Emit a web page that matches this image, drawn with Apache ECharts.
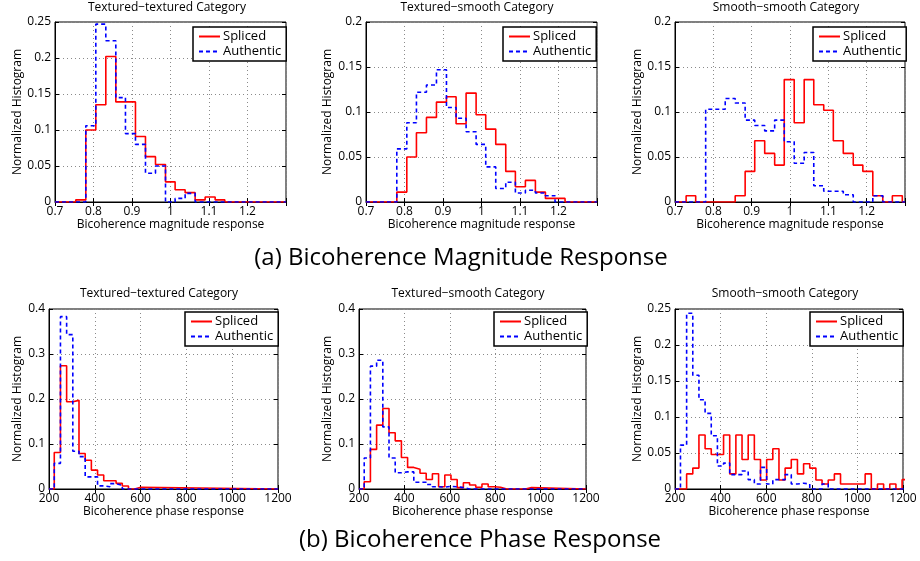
<!DOCTYPE html>
<html><head><meta charset="utf-8">
<script src="https://cdn.jsdelivr.net/npm/echarts@6/dist/echarts.min.js"></script>
<style>html,body{margin:0;padding:0;background:#fff}#c{width:920px;height:561px}</style>
</head><body><div id="c"></div>
<script>
// ---------- Data (bin edges + normalized histogram values) ----------
// (a) Bicoherence magnitude response
const magTTEdges = [0.754, 0.780, 0.806, 0.832, 0.858, 0.883, 0.909, 0.935, 0.961, 0.987, 1.012, 1.038, 1.064, 1.090, 1.116, 1.141];
const magTTSpliced   = [0.003, 0.100, 0.135, 0.202, 0.139, 0.139, 0.091, 0.063, 0.052, 0.028, 0.017, 0.013, 0.003, 0.007, 0.003];
const magTTAuthentic = [0, 0.106, 0.247, 0.224, 0.145, 0.095, 0.080, 0.040, 0.050, 0, 0.005, 0.012, 0, 0, 0];

const magTSEdges = [0.780, 0.806, 0.831, 0.857, 0.883, 0.909, 0.934, 0.960, 0.986, 1.011, 1.037, 1.063, 1.088, 1.114, 1.140, 1.166, 1.191, 1.217];
const magTSSpliced   = [0.011, 0.050, 0.077, 0.094, 0.111, 0.117, 0.087, 0.121, 0.097, 0.081, 0.064, 0.034, 0.017, 0.024, 0.011, 0.004, 0.004];
const magTSAuthentic = [0.059, 0.088, 0.122, 0.130, 0.147, 0.105, 0.093, 0.078, 0.064, 0.039, 0.015, 0.022, 0.010, 0.013, 0.010, 0.007, 0];

const magSSEdges = [0.729, 0.754, 0.780, 0.806, 0.831, 0.857, 0.883, 0.908, 0.934, 0.960, 0.985, 1.011, 1.037, 1.062, 1.088, 1.113, 1.139, 1.165, 1.190, 1.216, 1.242, 1.267, 1.293];
const magSSSpliced   = [0.007, 0, 0, 0, 0, 0.007, 0.034, 0.068, 0.054, 0.041, 0.136, 0.088, 0.136, 0.108, 0.102, 0.068, 0.054, 0.041, 0.034, 0.007, 0, 0.007];
const magSSAuthentic = [0, 0, 0.103, 0.103, 0.115, 0.110, 0.091, 0.085, 0.079, 0.091, 0.067, 0.043, 0.055, 0.018, 0.012, 0.012, 0.008, 0, 0, 0.007, 0, 0];

// (b) Bicoherence phase response
const phTTEdges = [223, 250, 277, 304, 331, 358, 385, 412, 439, 466, 493, 520, 547, 574, 601];
const phTTSpliced   = [0.081, 0.274, 0.194, 0.197, 0.079, 0.064, 0.042, 0.031, 0.0185, 0.0185, 0.0126, 0.0067, 0, 0.004];
const phTTAuthentic = [0.057, 0.383, 0.343, 0.084, 0.072, 0.027, 0.027, 0.007, 0.005, 0.012, 0.008, 0, 0, 0];

const phTSEdges = [223, 250.3, 277.6, 304.9, 332.2, 359.5, 386.8, 414.1, 441.4, 468.7, 496, 523.3, 550.6, 577.9, 605.2, 632.5, 659.8, 687.1, 714.4, 741.7, 769, 796.3, 823.6, 850.9, 878.2, 905.5, 932.8, 960.1];
const phTSSpliced   = [0.016, 0.088, 0.142, 0.179, 0.125, 0.107, 0.070, 0.048, 0.044, 0.035, 0.021, 0.034, 0.005, 0.031, 0.021, 0.003, 0.014, 0.009, 0.004, 0.011, 0.005, 0.004, 0, 0, 0, 0, 0.003];
const phTSAuthentic = [0.069, 0.273, 0.286, 0.138, 0.069, 0.036, 0.038, 0.038, 0.015, 0.015, 0.010, 0.005, 0.004, 0.006, 0.005, 0.003, 0, 0, 0, 0, 0, 0, 0, 0, 0, 0, 0];

const phSSEdges = [224, 251, 278, 305, 332, 359, 386, 413, 440, 467, 494, 521, 548, 575, 602, 629, 656, 683, 710, 737, 764, 791, 818, 845, 872, 899, 926, 953, 980, 1007, 1034, 1061, 1088, 1115, 1142, 1169, 1196, 1223];
const phSSSpliced   = [0, 0.021, 0.029, 0.075, 0.056, 0.048, 0.048, 0.075, 0.021, 0.075, 0.041, 0.075, 0.041, 0.0125, 0.041, 0.056, 0.0125, 0.029, 0.041, 0.021, 0.035, 0.029, 0.0125, 0.007, 0.0125, 0.021, 0.007, 0.007, 0.007, 0.007, 0.021, 0, 0.007, 0, 0.007, 0, 0.013];
const phSSAuthentic = [0.061, 0.244, 0.158, 0.124, 0.105, 0.074, 0.032, 0.036, 0.020, 0.020, 0.025, 0.013, 0.007, 0.030, 0.007, 0.013, 0.013, 0.020, 0.007, 0.008, 0.007, 0, 0, 0.007, 0, 0, 0, 0, 0, 0, 0, 0, 0, 0, 0, 0, 0];

const panelTitles = ['Textured\u2212textured Category', 'Textured\u2212smooth Category', 'Smooth\u2212smooth Category',
                     'Textured\u2212textured Category', 'Textured\u2212smooth Category', 'Smooth\u2212smooth Category'];
const xNames = ['Bicoherence magnitude response', 'Bicoherence phase response'];
const yName = 'Normalized Histogram';
const seriesNames = ['Spliced', 'Authentic'];
const captions = ['(a) Bicoherence Magnitude Response', '(b) Bicoherence Phase Response'];

// ---------- Layout ----------
const FONT = 'Open Sans';
const panels = [
  {edges: magTTEdges, s: magTTSpliced, a: magTTAuthentic, x: [0.7, 1.3, 0.1], y: [0, 0.25, 0.05], row: 0,
   grid: {left: 55, top: 22, width: 231, height: 180}, legend: {left: 193, top: 27}, yGap: 31, titleX: 167},
  {edges: magTSEdges, s: magTSSpliced, a: magTSAuthentic, x: [0.7, 1.3, 0.1], y: [0, 0.2, 0.05], row: 0,
   grid: {left: 366, top: 22, width: 231, height: 180}, legend: {left: 503, top: 27}, yGap: 32, titleX: 477},
  {edges: magSSEdges, s: magSSSpliced, a: magSSAuthentic, x: [0.7, 1.3, 0.1], y: [0, 0.2, 0.05], row: 0,
   grid: {left: 675, top: 22, width: 230, height: 180}, legend: {left: 813, top: 27}, yGap: 31, titleX: 786},
  {edges: phTTEdges, s: phTTSpliced, a: phTTAuthentic, x: [200, 1200, 200], y: [0, 0.4, 0.1], row: 1,
   grid: {left: 49, top: 309, width: 229, height: 180}, legend: {left: 185, top: 312}, yGap: 25, titleX: 159},
  {edges: phTSEdges, s: phTSSpliced, a: phTSAuthentic, x: [200, 1200, 200], y: [0, 0.4, 0.1], row: 1,
   grid: {left: 359, top: 309, width: 227, height: 180}, legend: {left: 494, top: 312}, yGap: 25, titleX: 468},
  {edges: phSSEdges, s: phSSSpliced, a: phSSAuthentic, x: [200, 1200, 200], y: [0, 0.25, 0.05], row: 1,
   grid: {left: 675, top: 309, width: 228, height: 180}, legend: {left: 810, top: 312}, yGap: 31, titleX: 785}
];

function stairs(edges, vals, xmin, xmax) {
  const pts = [[xmin, 0]];
  for (let i = 0; i < vals.length; i++) pts.push([edges[i], vals[i]]);
  const last = edges[vals.length];
  pts.push([last, 0]);
  if (last < xmax) pts.push([xmax, 0]);
  return pts;
}
function fmt(v) { return String(Math.round(v * 1000) / 1000); }

const grids = [], xAxes = [], yAxes = [], series = [], legends = [], graphics = [];
const tickStyle = {show: true, inside: true, length: 4, lineStyle: {color: '#000'}};
panels.forEach((p, i) => {
  grids.push(Object.assign({show: true, borderColor: '#000', borderWidth: 1, backgroundColor: '#fff',
                            containLabel: false, outerBoundsMode: 'none'}, p.grid));
  const xmax = p.x[1];
  xAxes.push({
    type: 'value', gridIndex: i, position: 'bottom', min: p.x[0], max: p.x[1], interval: p.x[2],
    name: xNames[p.row], nameLocation: 'middle', nameGap: p.row === 0 ? 17 : 14,
    nameTextStyle: {fontFamily: FONT, fontSize: 12, color: '#000'},
    axisLine: {show: true, lineStyle: {color: '#000', width: 1}},
    axisTick: tickStyle,
    axisLabel: {fontFamily: FONT, fontSize: 12, color: '#000', margin: 4,
                formatter: v => (p.row === 0 && v > 1.25) ? '' : fmt(v)},
    splitLine: {show: true, lineStyle: {color: '#8a8a8a', type: [1, 3], width: 1}}
  });
  yAxes.push({
    type: 'value', gridIndex: i, position: 'left', min: p.y[0], max: p.y[1], interval: p.y[2],
    name: yName, nameLocation: 'middle', nameGap: p.yGap,
    nameTextStyle: {fontFamily: FONT, fontSize: 12, color: '#000'},
    axisLine: {show: true, lineStyle: {color: '#000', width: 1}},
    axisTick: tickStyle,
    axisLabel: {fontFamily: FONT, fontSize: 12, color: '#000', margin: 4, formatter: fmt},
    splitLine: {show: true, lineStyle: {color: '#8a8a8a', type: [1, 3], width: 1}}
  });
  series.push({
    name: seriesNames[0], type: 'line', step: 'end', xAxisIndex: i, yAxisIndex: i,
    symbol: 'none', clip: true, data: stairs(p.edges, p.s, p.x[0], xmax),
    lineStyle: {color: '#ff0000', width: 1.6}, itemStyle: {color: '#ff0000'}, z: 2
  });
  series.push({
    name: seriesNames[1], type: 'line', step: 'end', xAxisIndex: i, yAxisIndex: i,
    symbol: 'none', clip: true, data: stairs(p.edges, p.a, p.x[0], xmax),
    lineStyle: {color: '#0000ff', width: 1.6, type: [4, 3]}, itemStyle: {color: '#0000ff'}, z: 3
  });
  legends.push({
    data: seriesNames, orient: 'vertical', left: p.legend.left, top: p.legend.top,
    padding: [3, 5, 3, 5], itemGap: 2, itemWidth: 21, itemHeight: 12,
    backgroundColor: '#fff', borderColor: '#000', borderWidth: 1.5, borderRadius: 0,
    itemStyle: {opacity: 0},
    selectedMode: false, textStyle: {fontFamily: FONT, fontSize: 13, color: '#000', padding: [0, 0, 0, -2]}
  });
  graphics.push({type: 'text', x: p.titleX, y: p.row === 0 ? 8 : 294,
    style: {text: panelTitles[i], align: 'center', verticalAlign: 'middle', font: '12px "' + FONT + '"', fill: '#000'}});
});
// mirrored tick marks on the top and right edges (MATLAB box style)
panels.forEach((p, i) => {
  xAxes.push({type: 'value', gridIndex: i, position: 'top', min: p.x[0], max: p.x[1], interval: p.x[2],
    axisLine: {show: false}, axisTick: tickStyle, axisLabel: {show: false}, splitLine: {show: false}});
  yAxes.push({type: 'value', gridIndex: i, position: 'right', min: p.y[0], max: p.y[1], interval: p.y[2],
    axisLine: {show: false}, axisTick: tickStyle, axisLabel: {show: false}, splitLine: {show: false}});
});
graphics.push({type: 'text', x: 461, y: 258,
  style: {text: captions[0], align: 'center', verticalAlign: 'middle', font: '24px "' + FONT + '"', fill: '#000'}});
graphics.push({type: 'text', x: 480, y: 540,
  style: {text: captions[1], align: 'center', verticalAlign: 'middle', font: '24px "' + FONT + '"', fill: '#000'}});

const chart = echarts.init(document.getElementById('c'), null, {renderer: 'canvas'});
chart.setOption({
  animation: false, backgroundColor: '#fff',
  grid: grids, xAxis: xAxes, yAxis: yAxes, series: series, legend: legends, graphic: graphics
});
</script></body></html>
